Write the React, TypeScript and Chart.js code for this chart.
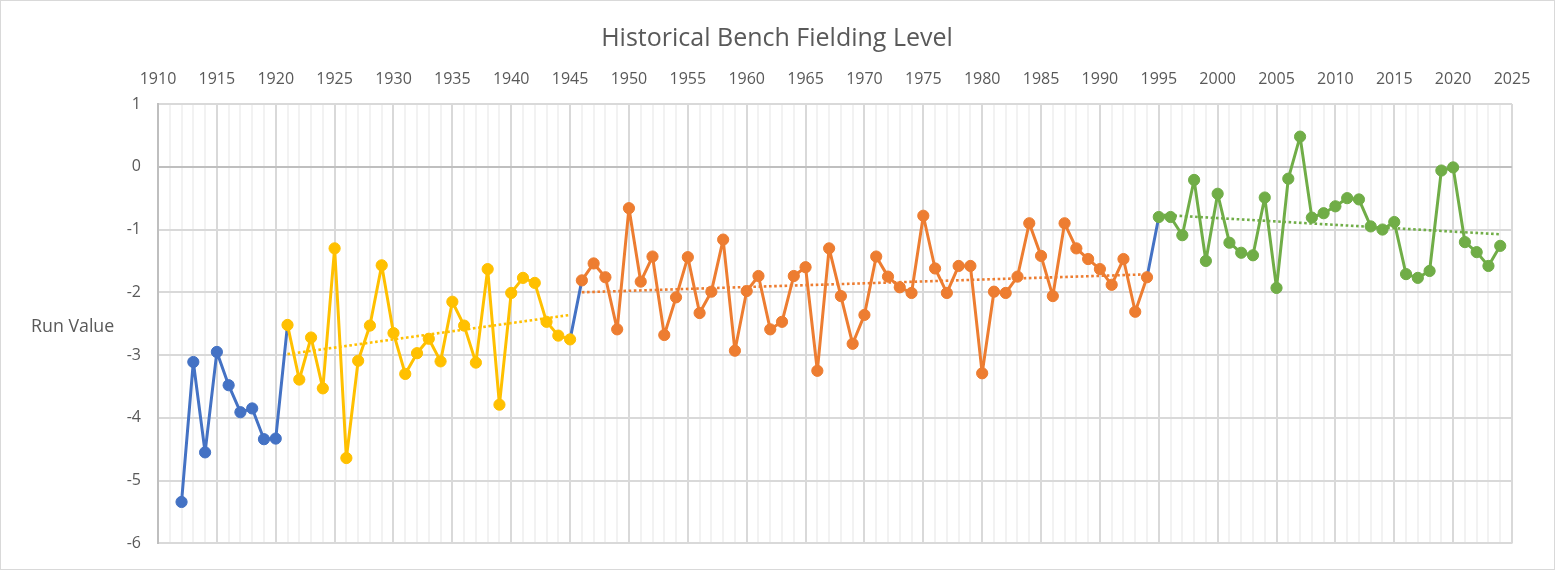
import React, { useEffect, useRef } from "react";
import { Chart, registerables } from "chart.js";

Chart.register(...registerables);

const TITLE = "Historical Bench Fielding Level";
const Y_TITLE = "Run Value";
const X_MIN = 1910;
const X_MAX = 2025;
const Y_MIN = -6;
const Y_MAX = 1;

const blueStart = 1912;
const blueValues = [-5.34, -3.11, -4.55, -2.95, -3.48, -3.91, -3.85, -4.34, -4.33];

const yellowStart = 1921;
const yellowValues = [
  -2.52, -3.39, -2.72, -3.53, -1.3, -4.64, -3.09, -2.53, -1.57, -2.65,
  -3.3, -2.97, -2.74, -3.1, -2.15, -2.53, -3.12, -1.63, -3.79, -2.01,
  -1.77, -1.85, -2.47, -2.69, -2.75,
];

const orangeStart = 1946;
const orangeValues = [
  -1.81, -1.54, -1.76, -2.59, -0.66, -1.83, -1.43, -2.68, -2.08, -1.44,
  -2.33, -1.99, -1.16, -2.93, -1.98, -1.74, -2.59, -2.47, -1.74, -1.6,
  -3.25, -1.3, -2.06, -2.82, -2.36, -1.43, -1.75, -1.92, -2.01, -0.78,
  -1.62, -2.01, -1.58, -1.58, -3.29, -1.99, -2.01, -1.75, -0.9, -1.42,
  -2.06, -0.9, -1.3, -1.47, -1.63, -1.88, -1.47, -2.31, -1.76,
];

const greenStart = 1995;
const greenValues = [
  -0.8, -0.8, -1.09, -0.21, -1.5, -0.43, -1.21, -1.37, -1.41, -0.49,
  -1.93, -0.19, 0.48, -0.81, -0.74, -0.63, -0.5, -0.52, -0.95, -1.0,
  -0.88, -1.71, -1.77, -1.66, -0.06, -0.01, -1.2, -1.36, -1.58, -1.26,
];

const BLUE = "#4472C4";
const YELLOW = "#FFC000";
const ORANGE = "#ED7D31";
const GREEN = "#70AD47";
const TEXT = "#595959";
const FONT = "'Open Sans', sans-serif";

type Pt = { x: number; y: number | null };

function toPoints(start: number, values: number[]): Pt[] {
  return values.map((y, i) => ({ x: start + i, y }));
}

// Linear least-squares trendline (as Excel's linear trendline) over an era's data
function trend(start: number, values: number[]): Pt[] {
  const n = values.length;
  let sx = 0, sy = 0, sxx = 0, sxy = 0;
  values.forEach((y, i) => {
    const x = start + i;
    sx += x; sy += y; sxx += x * x; sxy += x * y;
  });
  const b = (n * sxy - sx * sy) / (n * sxx - sx * sx);
  const a = (sy - b * sx) / n;
  const end = start + n - 1;
  return [
    { x: start, y: a + b * start },
    { x: end, y: a + b * end },
  ];
}

const lastOf = (a: number[]) => a[a.length - 1];

const decorPlugin = {
  id: "decor",
  beforeDraw(chart: any) {
    const { ctx, width, height } = chart;
    ctx.save();
    ctx.fillStyle = "#FFFFFF";
    ctx.fillRect(0, 0, width, height);
    ctx.restore();
  },
  afterDraw(chart: any) {
    const { ctx, width, height } = chart;
    ctx.save();
    ctx.strokeStyle = "#D9D9D9";
    ctx.lineWidth = 2;
    ctx.strokeRect(0, 0, width, height);
    ctx.fillStyle = TEXT;
    ctx.textBaseline = "alphabetic";
    ctx.textAlign = "center";
    ctx.font = `25px ${FONT}`;
    ctx.fillText(TITLE, 777, 46);
    ctx.textAlign = "left";
    ctx.font = `17.8px ${FONT}`;
    ctx.fillText(Y_TITLE, 31, 332);
    ctx.restore();
  },
};

export default function App() {
  const ref = useRef<HTMLCanvasElement | null>(null);

  useEffect(() => {
    document.body.style.margin = "0";
    const canvas = ref.current;
    if (!canvas) return;

    const bluePts: Pt[] = [
      ...toPoints(blueStart, blueValues),
      { x: yellowStart, y: yellowValues[0] },
      { x: 1933, y: null },
      { x: yellowStart + yellowValues.length - 1, y: lastOf(yellowValues) },
      { x: orangeStart, y: orangeValues[0] },
      { x: 1970, y: null },
      { x: orangeStart + orangeValues.length - 1, y: lastOf(orangeValues) },
      { x: greenStart, y: greenValues[0] },
    ];

    const R = 5.6;

    const series = (label: string, color: string, data: Pt[], order: number, radiusFn?: any) => ({
      label,
      data,
      borderColor: color,
      backgroundColor: color,
      pointBackgroundColor: color,
      pointBorderColor: color,
      borderWidth: 3,
      borderJoinStyle: "round",
      borderCapStyle: "round",
      pointRadius: radiusFn ?? R,
      pointBorderWidth: 1,
      pointHoverRadius: R,
      tension: 0,
      spanGaps: false,
      order,
    });

    const trendSet = (label: string, color: string, data: Pt[]) => ({
      label,
      data,
      borderColor: color,
      backgroundColor: color,
      borderWidth: 2.6,
      borderDash: [2.6, 2.6],
      pointRadius: 0,
      order: 0,
    });

    const chart = new Chart(canvas, {
      type: "line",
      data: {
        datasets: [
          trendSet("Yellow trend", YELLOW, trend(yellowStart, yellowValues)),
          trendSet("Orange trend", ORANGE, trend(orangeStart, orangeValues)),
          trendSet("Green trend", GREEN, trend(greenStart, greenValues)),
          series("1921-1945", YELLOW, toPoints(yellowStart, yellowValues), 1),
          series("1946-1994", ORANGE, toPoints(orangeStart, orangeValues), 1),
          series("1995-2024", GREEN, toPoints(greenStart, greenValues), 1),
          series("1912-1920", BLUE, bluePts, 2, (c: any) =>
            c.dataIndex < blueValues.length ? R : 0
          ),
        ] as any,
      },
      options: {
        animation: false,
        responsive: false,
        devicePixelRatio: 1,
        layout: { padding: { left: 0, right: 43, top: 0, bottom: 24 } },
        plugins: {
          legend: { display: false },
          tooltip: { enabled: false },
          title: { display: false },
        },
        scales: {
          x: {
            type: "linear",
            position: "top",
            min: X_MIN,
            max: X_MAX,
            afterFit: (scale: any) => {
              scale.height = 104;
            },
            ticks: {
              stepSize: 1,
              autoSkip: false,
              maxRotation: 0,
              minRotation: 0,
              padding: 15,
              color: TEXT,
              font: { family: FONT, size: 16 },
              callback: (v: any) => (Number(v) % 5 === 0 ? String(v) : ""),
            },
            grid: {
              drawTicks: false,
              lineWidth: 2,
              color: (c: any) =>
                c.tick && Math.round(c.tick.value) % 5 === 0 ? "#D9D9D9" : "#F2F2F2",
            },
            border: { display: false },
          },
          y: {
            type: "linear",
            min: Y_MIN,
            max: Y_MAX,
            afterFit: (scale: any) => {
              scale.width = 158;
            },
            ticks: {
              stepSize: 1,
              padding: 17,
              color: TEXT,
              font: { family: FONT, size: 16 },
            },
            grid: {
              drawTicks: false,
              lineWidth: 2,
              color: (c: any) => (c.tick && c.tick.value === 0 ? "#BFBFBF" : "#D9D9D9"),
            },
            border: { display: true, color: "#BFBFBF", width: 2 },
          },
        },
      },
      plugins: [decorPlugin],
    } as any);

    return () => chart.destroy();
  }, []);

  return (
    <div style={{ position: "fixed", left: 0, top: 0, width: 1555, height: 570 }}>
      <canvas ref={ref} width={1555} height={570} style={{ width: 1555, height: 570, display: "block" }} />
    </div>
  );
}
